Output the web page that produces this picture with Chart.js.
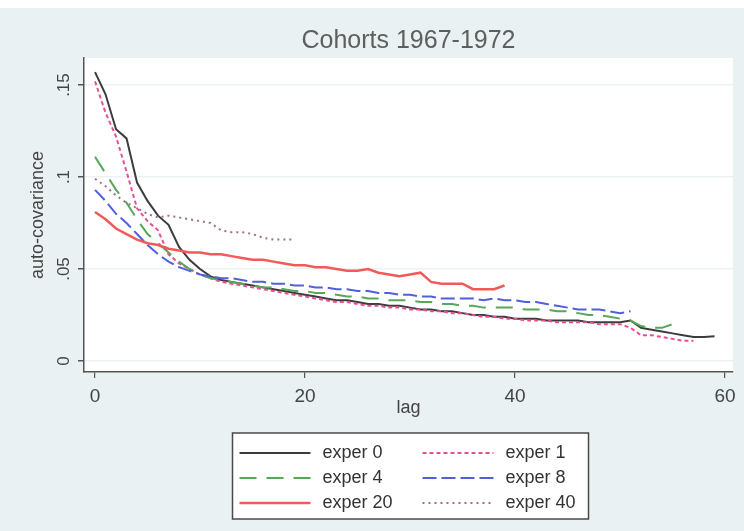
<!DOCTYPE html>
<html>
<head>
<meta charset="utf-8">
<script src="https://cdn.jsdelivr.net/npm/chart.js@4.4.1/dist/chart.umd.min.js"></script>
<style>
  html, body { margin: 0; padding: 0; background: #e9f1f3; overflow: hidden; }
  #wrap { width: 744px; height: 531px; }
</style>
</head>
<body>
<div id="wrap"><canvas id="chart" width="744" height="531"></canvas></div>
<script>
// data (auto-covariance by lag)
const titleText = 'Cohorts 1967-1972';
const seriesNames = ['exper 0', 'exper 1', 'exper 4', 'exper 8', 'exper 20', 'exper 40'];
const yTicks = [0, 0.05, 0.1, 0.15];
const yTickLabels = ['0', '.05', '.1', '.15'];
const xTicks = [0, 20, 40, 60];

const exper0 = [.157, .145, .126, .121, .097, .087, .079, .074, .062, .055,
  .050, .046, .044, .043, .042, .041, .040, .039, .038, .037,
  .036, .035, .034, .033, .033, .032, .031, .031, .030, .030,
  .029, .028, .028, .027, .027, .026, .025, .025, .024, .024,
  .023, .023, .023, .022, .022, .022, .022, .021, .021, .021,
  .021, .022, .018, .017, .016, .015, .014, .013, .013, .0135];
const exper1 = [.152, .135, .122, .103, .083, .076, .071, .058, .053, .050,
  .047, .045, .043, .042, .041, .040, .039, .038, .037, .036,
  .035, .034, .033, .032, .032, .031, .030, .030, .029, .029,
  .028, .028, .027, .027, .026, .026, .025, .024, .024, .023,
  .023, .022, .022, .022, .021, .021, .021, .021, .020, .020,
  .020, .018, .014, .014, .013, .012, .011, .011];
const exper4 = [.111, .102, .093, .086, .077, .069, .064, .059, .054, .050,
  .047, .045, .044, .043, .042, .041, .040, .040, .039, .038,
  .038, .037, .037, .036, .035, .035, .034, .034, .033, .033,
  .033, .032, .032, .031, .031, .030, .030, .029, .029, .029,
  .029, .028, .028, .028, .027, .027, .026, .025, .025, .024,
  .023, .022, .019, .018, .018, .020];
const exper8 = [.093, .087, .080, .075, .069, .063, .058, .054, .051, .049,
  .047, .046, .045, .045, .044, .043, .043, .042, .042, .041,
  .041, .040, .040, .039, .039, .038, .038, .037, .037, .036,
  .036, .035, .035, .034, .034, .034, .034, .033, .034, .033,
  .033, .032, .032, .031, .030, .029, .028, .028, .028, .027,
  .026, .027];
const exper20 = [.081, .077, .072, .069, .066, .064, .063, .061, .060, .059,
  .059, .058, .058, .057, .056, .055, .055, .054, .053, .052,
  .052, .051, .051, .050, .049, .049, .050, .048, .047, .046,
  .047, .048, .043, .042, .042, .042, .039, .039, .039, .041];
const exper40 = [.099, .095, .090, .086, .083, .080, .078, .079, .078, .077,
  .076, .075, .071, .070, .070, .069, .067, .066, .066, .066];

const seriesValues = [exper0, exper1, exper4, exper8, exper20, exper40];
const seriesColors = ['#3c3c3c', '#e8508c', '#56a856', '#5060dc', '#f25a5a', '#a0707e'];
const seriesDash = [[], [4, 3], [17, 10], [14, 5], [], [2, 4]];
const seriesWidth = [2, 2, 2, 2, 2.5, 2];

const FONT = '"Liberation Sans", Arial, Helvetica, sans-serif';

const datasets = seriesNames.map((name, i) => ({
  label: name,
  data: seriesValues[i].map((v, lag) => ({ x: lag, y: v })),
  borderColor: seriesColors[i],
  backgroundColor: seriesColors[i],
  borderDash: seriesDash[i],
  borderWidth: seriesWidth[i],
  pointRadius: 0,
  tension: 0,
  fill: false,
  order: seriesNames.length - i
}));

// white plot region on the pale blue-grey background
const backdrop = {
  id: 'backdrop',
  beforeDraw(chart) {
    const { ctx, chartArea: a } = chart;
    ctx.save();
    ctx.fillStyle = '#ffffff';
    ctx.fillRect(0, 0, chart.width, 8);
    ctx.fillStyle = '#e9f1f3';
    ctx.fillRect(0, 8, chart.width, chart.height - 8);
    ctx.fillStyle = '#ffffff';
    ctx.fillRect(a.left, a.top, a.right - a.left, a.bottom - a.top);
    ctx.restore();
  }
};

// stata style boxed legend, two columns
const boxLegend = {
  id: 'boxLegend',
  afterDraw(chart) {
    const { ctx, chartArea: a } = chart;
    const cx = (a.left + a.right) / 2;
    const bx = cx - 176, by = a.bottom + 61, bw = 356, bh = 86;
    ctx.save();
    ctx.fillStyle = '#ffffff';
    ctx.fillRect(bx, by, bw, bh);
    ctx.strokeStyle = '#4a4a4a';
    ctx.lineWidth = 1.5;
    ctx.strokeRect(bx, by, bw, bh);
    ctx.font = '18px ' + FONT;
    ctx.textBaseline = 'middle';
    ctx.fillStyle = '#333333';
    chart.data.datasets.forEach((ds, i) => {
      const col = i % 2, row = Math.floor(i / 2);
      const x0 = bx + 7 + col * 183;
      const y = by + 20 + row * 25;
      ctx.beginPath();
      ctx.setLineDash(ds.borderDash);
      ctx.strokeStyle = ds.borderColor;
      ctx.lineWidth = ds.borderWidth;
      ctx.moveTo(x0, y);
      ctx.lineTo(x0 + 71, y);
      ctx.stroke();
      ctx.setLineDash([]);
      ctx.fillText(ds.label, x0 + 83, y);
    });
    ctx.restore();
  }
};

new Chart(document.getElementById('chart'), {
  type: 'line',
  data: { datasets },
  options: {
    responsive: false,
    devicePixelRatio: 1,
    animation: false,
    layout: { padding: { top: 24, left: 23, right: 11, bottom: 109 } },
    plugins: {
      legend: { display: false },
      tooltip: { enabled: false },
      title: {
        display: true,
        text: titleText,
        fullSize: false,
        color: '#5e5e5e',
        font: { family: FONT, size: 25, weight: 'normal' },
        padding: { top: 2, bottom: 2 }
      }
    },
    scales: {
      x: {
        type: 'linear',
        min: -1.05,
        max: 60.76,
        afterBuildTicks(scale) { scale.ticks = xTicks.map(v => ({ value: v })); },
        afterFit(scale) { scale.height = 50; },
        border: { color: '#555555', width: 1.5 },
        grid: { drawOnChartArea: false, drawTicks: true, tickLength: 6, color: '#555555', lineWidth: 1.2 },
        ticks: { color: '#444444', padding: 7, font: { family: FONT, size: 19 }, maxRotation: 0 },
        title: { display: true, text: 'lag', color: '#444444', font: { family: FONT, size: 18 }, padding: { top: 0, bottom: 3 } }
      },
      y: {
        type: 'linear',
        min: -0.006,
        max: 0.1647,
        afterBuildTicks(scale) { scale.ticks = yTicks.map(v => ({ value: v })); },
        afterFit(scale) { scale.width = 61; },
        border: { color: '#555555', width: 1.5 },
        grid: { color: '#edf2f4', lineWidth: 1.5, tickColor: '#555555', tickLength: 6, drawTicks: true },
        ticks: {
          color: '#444444',
          padding: 2,
          minRotation: 90,
          maxRotation: 90,
          crossAlign: 'center',
          font: { family: FONT, size: 17 },
          callback: (v) => { const k = yTicks.indexOf(v); return k >= 0 ? yTickLabels[k] : ''; }
        },
        title: { display: true, text: 'auto-covariance', color: '#444444', font: { family: FONT, size: 18 }, padding: { top: 4, bottom: 0 } }
      }
    }
  },
  plugins: [backdrop, boxLegend]
});
</script>
</body>
</html>
